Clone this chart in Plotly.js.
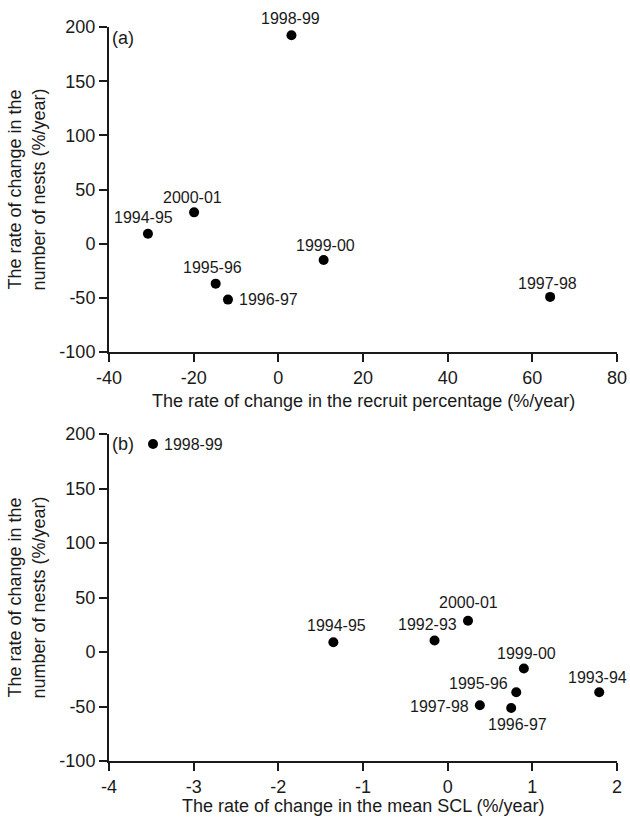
<!DOCTYPE html>
<html>
<head>
<meta charset="utf-8">
<script src="https://cdn.plot.ly/plotly-3.0.1.min.js"></script>
<style>html,body{margin:0;padding:0;background:#fff;}#chart{width:630px;height:818px;}</style>
</head>
<body>
<div id="chart"></div>
<script>
// ---- data (panel a) ----
var aLabels = ['1994-95','1995-96','1996-97','1997-98','1998-99','1999-00','2000-01'];
var aRecruit = [-30.8, -14.8, -11.9, 64.2, 3.1, 10.7, -19.9];
var aNests = [9.3, -36.8, -51.5, -49, 192.4, -15, 29];

// ---- data (panel b) ----
var bLabels = ['1992-93','1993-94','1994-95','1995-96','1996-97','1997-98','1998-99','1999-00','2000-01'];
var bSCL = [-0.155, 1.79, -1.35, 0.81, 0.75, 0.38, -3.48, 0.90, 0.24];
var bNests = [10.5, -36.9, 9, -36.9, -51.3, -48.9, 190.8, -15.2, 28.6];

// tick values and labels (hyphen-minus as printed)
var aXTicks = [-40, -20, 0, 20, 40, 60, 80];
var aXTickText = ['-40', '-20', '0', '20', '40', '60', '80'];
var bXTicks = [-4, -3, -2, -1, 0, 1, 2];
var bXTickText = ['-4', '-3', '-2', '-1', '0', '1', '2'];
var yTicks = [-100, -50, 0, 50, 100, 150, 200];
var yTickText = ['-100', '-50', '0', '50', '100', '150', '200'];

// label placement (style, px offsets relative to each point)
var aLabelPos = {
  '1994-95': [-4, 16, 'center'], '1995-96': [-3, 16, 'center'], '1996-97': [9, 0, 'left'],
  '1997-98': [-3, 13, 'center'], '1998-99': [-1, 17, 'center'], '1999-00': [2, 15, 'center'],
  '2000-01': [-2, 15, 'center']
};
var bLabelPos = {
  '1992-93': [-7, 16, 'center'], '1993-94': [-2, 15, 'center'], '1994-95': [3, 17, 'center'],
  '1995-96': [-6, 9, 'right'], '1996-97': [6, -17, 'center'], '1997-98': [-9, -1, 'right'],
  '1998-99': [9, 0, 'left'], '1999-00': [3, 15, 'center'], '2000-01': [1, 18, 'center']
};

var FONT = 'Liberation Sans, Arial, Helvetica, sans-serif';
var INK = '#1a1a1a';

var traces = [
  {x: aRecruit, y: aNests, type: 'scatter', mode: 'markers', xaxis: 'x', yaxis: 'y',
   marker: {size: 10, color: '#000'}, hoverinfo: 'skip'},
  {x: bSCL, y: bNests, type: 'scatter', mode: 'markers', xaxis: 'x2', yaxis: 'y2',
   marker: {size: 10, color: '#000'}, hoverinfo: 'skip'}
];

function axisBase() {
  return {
    showgrid: false, zeroline: false, showline: true, linecolor: INK, linewidth: 2,
    ticks: 'outside', ticklen: 8, tickwidth: 2, tickcolor: INK, tickmode: 'array',
    tickfont: {family: FONT, size: 18, color: INK}, fixedrange: true
  };
}

var ax = axisBase(); ax.range = [-40, 80]; ax.tickvals = aXTicks; ax.ticktext = aXTickText; ax.anchor = 'y'; ax.domain = [0, 1];
var ay = axisBase(); ay.range = [-100, 200]; ay.tickvals = yTicks; ay.ticktext = yTickText; ay.anchor = 'x'; ay.domain = [0.557, 1];
var bx = axisBase(); bx.range = [-4, 2]; bx.tickvals = bXTicks; bx.ticktext = bXTickText; bx.anchor = 'y2'; bx.domain = [0, 1];
var by = axisBase(); by.range = [-100, 200]; by.tickvals = yTicks; by.ticktext = yTickText; by.anchor = 'x2'; by.domain = [0, 0.4455];

var annotations = [];
aLabels.forEach(function (lab, i) {
  var p = aLabelPos[lab];
  annotations.push({x: aRecruit[i], y: aNests[i], xref: 'x', yref: 'y', text: lab, showarrow: false,
    xshift: p[0], yshift: p[1], xanchor: p[2], yanchor: 'middle', font: {family: FONT, size: 16, color: INK}});
});
bLabels.forEach(function (lab, i) {
  var p = bLabelPos[lab];
  annotations.push({x: bSCL[i], y: bNests[i], xref: 'x2', yref: 'y2', text: lab, showarrow: false,
    xshift: p[0], yshift: p[1], xanchor: p[2], yanchor: 'middle', font: {family: FONT, size: 16, color: INK}});
});

var titleFont = {family: FONT, size: 18, color: INK};
annotations.push(
  {xref: 'paper', yref: 'paper', x: 0.5, y: 0.557, yshift: -49, yanchor: 'middle', xanchor: 'center', showarrow: false,
   text: 'The rate of change in the recruit percentage (%/year)', font: titleFont},
  {xref: 'paper', yref: 'paper', x: 0.5, y: 0, yshift: -45, yanchor: 'middle', xanchor: 'center', showarrow: false,
   text: 'The rate of change in the mean SCL (%/year)', font: titleFont},
  {xref: 'paper', yref: 'paper', x: 0, y: (0.557 + 1) / 2, xshift: -82, xanchor: 'center', yanchor: 'middle', textangle: -90,
   showarrow: false, text: 'The rate of change in the<br>number of nests (%/year)', font: titleFont},
  {xref: 'paper', yref: 'paper', x: 0, y: 0.4455 / 2, xshift: -82, xanchor: 'center', yanchor: 'middle', textangle: -90,
   showarrow: false, text: 'The rate of change in the<br>number of nests (%/year)', font: titleFont},
  {xref: 'paper', yref: 'paper', x: 0, y: 1, xshift: 14, yshift: -11, xanchor: 'center', yanchor: 'middle',
   showarrow: false, text: '(a)', font: {family: FONT, size: 18, color: INK}},
  {xref: 'paper', yref: 'paper', x: 0, y: 0.4455, xshift: 14, yshift: -10, xanchor: 'center', yanchor: 'middle',
   showarrow: false, text: '(b)', font: {family: FONT, size: 18, color: INK}}
);

var layout = {
  width: 630, height: 818,
  margin: {l: 109, r: 13, t: 27, b: 57},
  paper_bgcolor: '#fff', plot_bgcolor: '#fff',
  showlegend: false,
  xaxis: ax, yaxis: ay, xaxis2: bx, yaxis2: by,
  annotations: annotations,
  font: {family: FONT, color: INK}
};

Plotly.newPlot('chart', traces, layout, {displayModeBar: false, staticPlot: true});
</script>
</body>
</html>
